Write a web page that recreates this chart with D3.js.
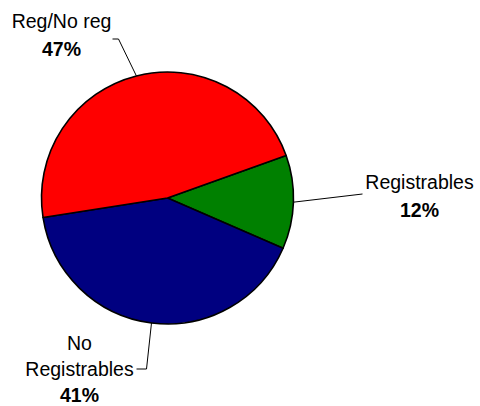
<!DOCTYPE html>
<html lang="en">
<head>
    <meta charset="UTF-8">
    <script src="https://d3js.org/d3.v7.min.js"></script>
    <style>
        body { margin: 0; background: #fff; }
        text { font-family: "Liberation Sans", Arial, sans-serif; font-size: 19.5px; fill: #000; }
        .pct { font-weight: bold; }
    </style>
</head>
<body>
<script>
    // Data, in drawing order (clockwise)
    var categories = ["Registrables", "No Registrables", "Reg/No reg"];
    var values = [12, 41, 47];
    var colors = ["#008000", "#000080", "#ff0000"];

    var width = 480, height = 406;
    var cx = 167.5, cy = 198, radius = 126;

    var svg = d3.select("body").append("svg")
        .attr("width", width)
        .attr("height", height);

    var pie = d3.pie()
        .sort(null)
        .value(function (d) { return d; })
        .startAngle(70.3 * Math.PI / 180)
        .endAngle((70.3 + 360) * Math.PI / 180);

    var arc = d3.arc().innerRadius(0).outerRadius(radius);
    var arcs = pie(values);

    var g = svg.append("g").attr("transform", "translate(" + cx + "," + cy + ")");

    g.selectAll("path")
        .data(arcs)
        .enter().append("path")
        .attr("d", arc)
        .style("fill", function (d, i) { return colors[i]; })
        .style("stroke", "#000")
        .style("stroke-width", 1.6)
        .style("stroke-linejoin", "round");

    // label layout: elbow point, line end, text anchor, gap to the % line
    var labelLayout = [
        { elbow: [195, -4], end: [195, -4], tx: 252, ty: -9, gap: 28, lines: ["Registrables"] },
        { elbow: [-21, 171], end: [-31, 171], tx: -88, ty: 178, gap: 26, lines: ["No", "Registrables"] },
        { elbow: [-49, -159], end: [-55, -159], tx: -106, ty: -170, gap: 28, lines: ["Reg/No reg"] }
    ];

    arcs.forEach(function (d, i) {
        var mid = (d.startAngle + d.endAngle) / 2;
        var p0 = [Math.sin(mid) * radius, -Math.cos(mid) * radius];
        var L = labelLayout[i];
        g.append("polyline")
            .attr("points", [p0, L.elbow, L.end].map(function (p) { return p.join(","); }).join(" "))
            .style("fill", "none")
            .style("stroke", "#000")
            .style("stroke-width", 1);

        var t = g.append("text").attr("text-anchor", "middle");
        var n = L.lines.length;
        L.lines.forEach(function (s, k) {
            t.append("tspan")
                .attr("x", L.tx)
                .attr("y", L.ty - (n - 1 - k) * 26)
                .text(s);
        });
        g.append("text")
            .attr("class", "pct")
            .attr("text-anchor", "middle")
            .attr("x", L.tx)
            .attr("y", L.ty + L.gap)
            .text(d3.format(".0f")(values[i] / d3.sum(values) * 100) + "%");
    });
</script>
</body>
</html>
